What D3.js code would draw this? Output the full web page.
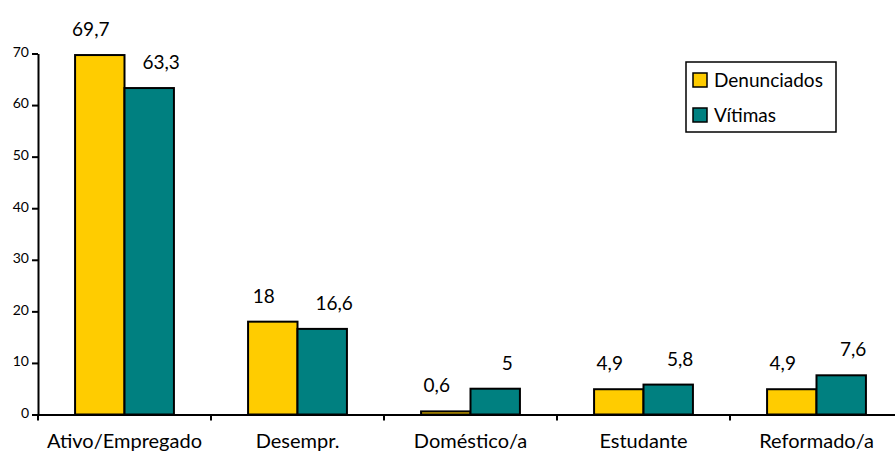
<!DOCTYPE html>
<html>
<head>
<meta charset="utf-8">
<script src="https://cdn.jsdelivr.net/npm/d3@7"></script>
<style>
  html, body { margin: 0; padding: 0; background: #fff; }
  svg { display: block; font-family: Lato, "Open Sans", sans-serif; }
</style>
</head>
<body>
<svg id="chart" width="895" height="452"></svg>
<script>
// Situação profissional: denunciados vs. vítimas (%)
const categories = ["Ativo/Empregado", "Desempr.", "Doméstico/a", "Estudante", "Reformado/a"];
const seriesNames = ["Denunciados", "Vítimas"];
const denunciados = [69.7, 18, 0.6, 4.9, 4.9];
const vitimas = [63.3, 16.6, 5, 5.8, 7.6];
const yTicks = [0, 10, 20, 30, 40, 50, 60, 70];

const colors = { "Denunciados": "#FFCC00", "Vítimas": "#008080" };
const labelShift = { "Denunciados": -9, "Vítimas": 12 };

const rows = categories.map((c, i) => ({
  category: c,
  values: [
    { series: "Denunciados", value: denunciados[i] },
    { series: "Vítimas", value: vitimas[i] }
  ]
}));

const svg = d3.select("#chart");
const fmt = v => String(v).replace(".", ",");

const x = d3.scaleBand().domain(categories).range([38, 903]).paddingInner(0).paddingOuter(0);
const inner = d3.scaleBand().domain(seriesNames).range([0, x.bandwidth()]).paddingInner(0).paddingOuter(0.75);
const y = d3.scaleLinear().domain([0, 70]).range([414.5, 53.5]);

// bars
const groups = svg.append("g").selectAll("g")
  .data(rows).join("g")
  .attr("transform", d => `translate(${x(d.category)},0)`);

groups.selectAll("rect")
  .data(d => d.values).join("rect")
  .attr("x", d => inner(d.series))
  .attr("width", inner.bandwidth())
  .attr("y", d => y(d.value))
  .attr("height", d => y(0) - y(d.value))
  .attr("fill", d => colors[d.series])
  .attr("stroke", "#000")
  .attr("stroke-width", 2);

// value labels
groups.selectAll("text")
  .data(d => d.values).join("text")
  .attr("x", d => inner(d.series) + inner.bandwidth() / 2 + labelShift[d.series])
  .attr("y", d => y(d.value) - 19)
  .attr("text-anchor", "middle")
  .attr("font-size", 19)
  .attr("fill", "#000")
  .text(d => fmt(d.value));

// y axis
const yAxis = svg.append("g")
  .attr("transform", "translate(38,0)")
  .call(d3.axisLeft(y).tickValues(yTicks).tickSize(6).tickSizeOuter(0).tickPadding(3));
yAxis.select(".domain").attr("stroke", "#000").attr("stroke-width", 2);
yAxis.selectAll(".tick line").attr("stroke", "#000").attr("stroke-width", 2);
yAxis.selectAll(".tick text").attr("font-size", 14).attr("font-family", "Lato, sans-serif").attr("fill", "#000").attr("dy", "0.2em");

// x axis
const xAxis = svg.append("g")
  .attr("transform", `translate(0,${y(0)})`)
  .call(d3.axisBottom(x).tickSize(0).tickPadding(0));
xAxis.select(".domain").attr("stroke", "#000").attr("stroke-width", 2);
xAxis.selectAll(".tick text")
  .attr("font-size", 20).attr("font-family", "Lato, sans-serif").attr("fill", "#000")
  .attr("y", 33).attr("dy", 0);
// category separators
xAxis.selectAll(".sep")
  .data(categories).join("line")
  .attr("class", "sep")
  .attr("x1", d => x(d)).attr("x2", d => x(d))
  .attr("y1", 0).attr("y2", 6)
  .attr("stroke", "#000").attr("stroke-width", 2);

// legend
const legend = svg.append("g").attr("transform", "translate(686,62)");
legend.append("rect")
  .attr("width", 150).attr("height", 70)
  .attr("fill", "#fff").attr("stroke", "#000").attr("stroke-width", 1.5);
const items = legend.selectAll("g.item")
  .data(seriesNames).join("g")
  .attr("class", "item")
  .attr("transform", (d, i) => `translate(7,${11 + i * 35})`);
items.append("rect")
  .attr("width", 14).attr("height", 14)
  .attr("fill", d => colors[d])
  .attr("stroke", "#000").attr("stroke-width", 1.5);
items.append("text")
  .attr("x", 21).attr("y", 14)
  .attr("font-size", 19).attr("fill", "#000")
  .text(d => d);
</script>
</body>
</html>
